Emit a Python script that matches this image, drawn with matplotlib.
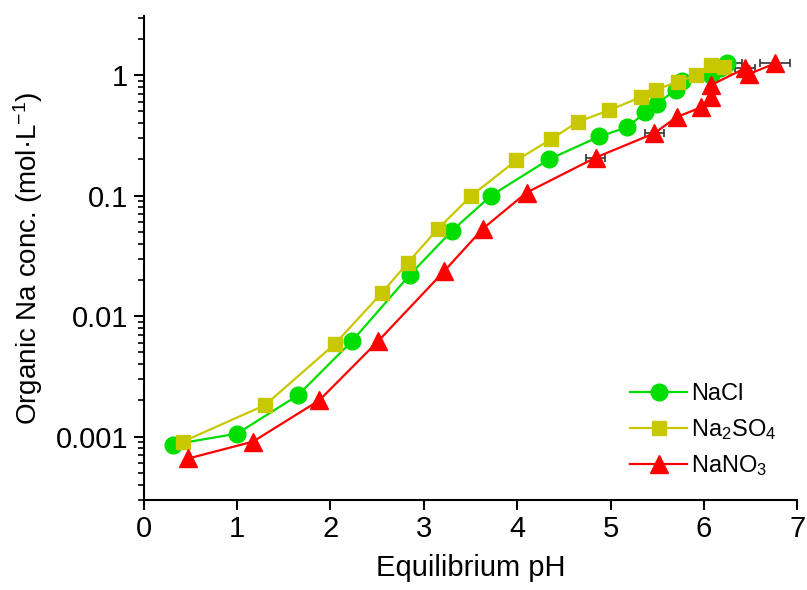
import matplotlib
matplotlib.use("Agg")
import matplotlib.pyplot as plt
from matplotlib.ticker import LogLocator, FixedLocator, FixedFormatter, NullFormatter

plt.rcParams['font.family'] = ['Liberation Sans', 'DejaVu Sans']
plt.rcParams['mathtext.fontset'] = 'custom'
plt.rcParams['mathtext.rm'] = 'Liberation Sans'
plt.rcParams['mathtext.it'] = 'Liberation Sans:italic'
plt.rcParams['mathtext.default'] = 'regular'

# NaCl
ph_nacl = [0.31, 1.00, 1.65, 2.23, 2.85, 3.30, 3.72, 4.34, 4.88, 5.18,
           5.37, 5.50, 5.70, 5.76, 6.08, 6.17, 6.25]
na_nacl = [0.00086, 0.00106, 0.0022, 0.0062, 0.022, 0.051, 0.10, 0.20, 0.31, 0.37,
           0.49, 0.58, 0.76, 0.90, 1.00, 1.14, 1.25]
err_nacl = [0, 0, 0, 0, 0, 0, 0, 0, 0, 0,
            0, 0, 0, 0, 0, 0, 0.16]

# Na2SO4
ph_so4 = [0.42, 1.30, 2.05, 2.55, 2.83, 3.15, 3.51, 3.99, 4.36, 4.65,
          4.98, 5.33, 5.49, 5.72, 5.92, 6.08, 6.21]
na_so4 = [0.00091, 0.00183, 0.0059, 0.0156, 0.0278, 0.053, 0.10, 0.196, 0.293, 0.41,
          0.51, 0.66, 0.76, 0.88, 1.00, 1.21, 1.17]

# NaNO3
ph_no3 = [0.48, 1.17, 1.88, 2.51, 3.22, 3.63, 4.10, 4.84, 5.47, 5.71,
          5.97, 6.08, 6.08, 6.44, 6.48, 6.76]
na_no3 = [0.00066, 0.00091, 0.0020, 0.0062, 0.0237, 0.053, 0.106, 0.207, 0.33, 0.45,
          0.54, 0.66, 0.83, 1.14, 1.02, 1.25]
err_no3 = [0, 0, 0, 0, 0, 0, 0, 0.10, 0.10, 0,
           0, 0, 0, 0.11, 0, 0.16]

fig = plt.figure(figsize=(8.07, 5.9), dpi=100)
ax = fig.add_axes([0.178, 0.153, 0.81, 0.82])

# error bars behind the markers
ax.errorbar(ph_nacl, na_nacl, xerr=err_nacl, fmt='none', ecolor='#333333',
            elinewidth=1.2, capsize=3, capthick=1.2, zorder=1)
ax.errorbar(ph_no3, na_no3, xerr=err_no3, fmt='none', ecolor='#333333',
            elinewidth=1.2, capsize=3, capthick=1.2, zorder=1)

ax.plot(ph_nacl, na_nacl, color='#00dd00', lw=1.6, marker='o', ms=12,
        mec='#00dd00', label='NaCl', zorder=3)
ax.plot(ph_so4, na_so4, color='#c8c800', lw=1.6, marker='s', ms=10,
        mec='#c8c800', label='Na$_2$SO$_4$', zorder=3)
ax.plot(ph_no3, na_no3, color='#ff0000', lw=1.6, marker='^', ms=13,
        mec='#ff0000', label='NaNO$_3$', zorder=3)

ax.set_yscale('log')
ax.set_xlim(0, 7)
ax.set_ylim(0.0003, 3.1)

ax.xaxis.set_major_locator(FixedLocator(range(8)))
ax.yaxis.set_major_locator(FixedLocator([0.001, 0.01, 0.1, 1]))
ax.yaxis.set_major_formatter(FixedFormatter(['0.001', '0.01', '0.1', '1']))
ax.yaxis.set_minor_locator(LogLocator(base=10, subs=range(2, 10)))
ax.yaxis.set_minor_formatter(NullFormatter())

for s in ['top', 'right']:
    ax.spines[s].set_visible(False)
for s in ['left', 'bottom']:
    ax.spines[s].set_linewidth(1.5)

ax.tick_params(which='major', direction='out', length=7, width=1.5, labelsize=21, pad=4)
ax.tick_params(which='minor', direction='out', length=4, width=1.2)

ax.set_xlabel('Equilibrium pH', fontsize=21, labelpad=8)
ax.set_ylabel('Organic Na conc. (mol·L$^{-1}$)', fontsize=20, labelpad=8)

ax.legend(loc='lower right', bbox_to_anchor=(1.0, 0.0), frameon=False,
          fontsize=17, handlelength=2.4, handletextpad=0.15, labelspacing=0.5)

fig.savefig('out.png', dpi=100)
